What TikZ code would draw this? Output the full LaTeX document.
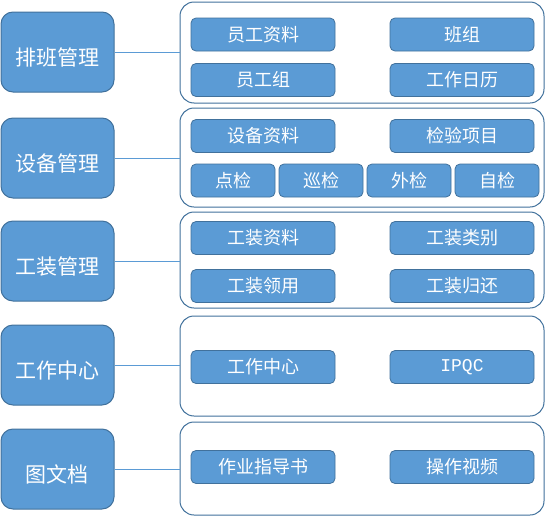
\documentclass[tikz,border=0pt]{standalone}
\usepackage{fontspec}
\newfontfamily\cjk{Noto Sans CJK SC}
\newfontfamily\latinmono{Liberation Mono}
\definecolor{boxblue}{HTML}{5B9BD5}
\definecolor{edgeblue}{HTML}{41719C}
\begin{document}
\begin{tikzpicture}[
                x=1pt,y=-1pt,
                module/.style={rounded corners=12pt,fill=boxblue,draw=edgeblue,line width=1pt,text=white,
                        minimum width=113pt,minimum height=80pt,text height=30pt,text depth=3pt,
                        font=\cjk\fontsize{21}{24}\selectfont},
                group/.style={rounded corners=14pt,draw=edgeblue,line width=1pt,fill=white,minimum width=364pt},
                item/.style={rounded corners=5pt,fill=boxblue,draw=edgeblue,line width=0.8pt,text=white,
                        minimum width=144pt,minimum height=33pt,inner sep=1pt,font=\cjk\fontsize{18}{20}\selectfont},
                small item/.style={item,minimum width=84pt},
                link/.style={draw=boxblue,line width=1pt}
            ]
            \useasboundingbox (0,0) rectangle (547,517);

            % modules
            \node[module] (pb) at (57.5,52) {排班管理};
            \node[module] (sb) at (57.5,158) {设备管理};
            \node[module] (gz) at (57.5,261) {工装管理};
            \node[module] (zx) at (57.5,365) {工作中心};
            \node[module] (wd) at (57.5,469) {图文档};

            % groups
            \node[group,minimum height=101pt] (pbg) at (362,52.5) {};
            \node[group,minimum height=99pt] (sbg) at (362,157.5) {};
            \node[group,minimum height=96pt] (gzg) at (362,260) {};
            \node[group,minimum height=100pt] (zxg) at (362,366) {};
            \node[group,minimum height=93pt] (wdg) at (362,468.5) {};

            % items
            \node[item] (ygzl) at (263,34.5) {员工资料};
            \node[item] (bz) at (462,34.5) {班组};
            \node[item] (ygz) at (263,80) {员工组};
            \node[item] (gzrl) at (462,80) {工作日历};

            \node[item] (sbzl) at (263,136) {设备资料};
            \node[item] (jyxm) at (462,136) {检验项目};
            \node[small item] (dj) at (233,180.5) {点检};
            \node[small item] (xj) at (321,180.5) {巡检};
            \node[small item] (wj) at (409,180.5) {外检};
            \node[small item] (zj) at (497,180.5) {自检};

            \node[item] (gzzl) at (263,238) {工装资料};
            \node[item] (gzlb) at (462,238) {工装类别};
            \node[item] (gzly) at (263,286) {工装领用};
            \node[item] (gzgh) at (462,286) {工装归还};

            \node[item] (gzzx) at (263,367) {工作中心};
            \node[item,font=\latinmono\fontsize{18}{20}\selectfont] (ipqc) at (462,367) {IPQC};

            \node[item] (zyzd) at (263,467) {作业指导书};
            \node[item] (czsp) at (462,467) {操作视频};

            % links
            \draw[link] (pb.east) -- (pb.east -| pbg.west);
            \draw[link] (sb.east) -- (sb.east -| sbg.west);
            \draw[link] (gz.east) -- (gz.east -| gzg.west);
            \draw[link] (zx.east) -- (zx.east -| zxg.west);
            \draw[link] (wd.east) -- (wd.east -| wdg.west);

        \end{tikzpicture}
\end{document}
